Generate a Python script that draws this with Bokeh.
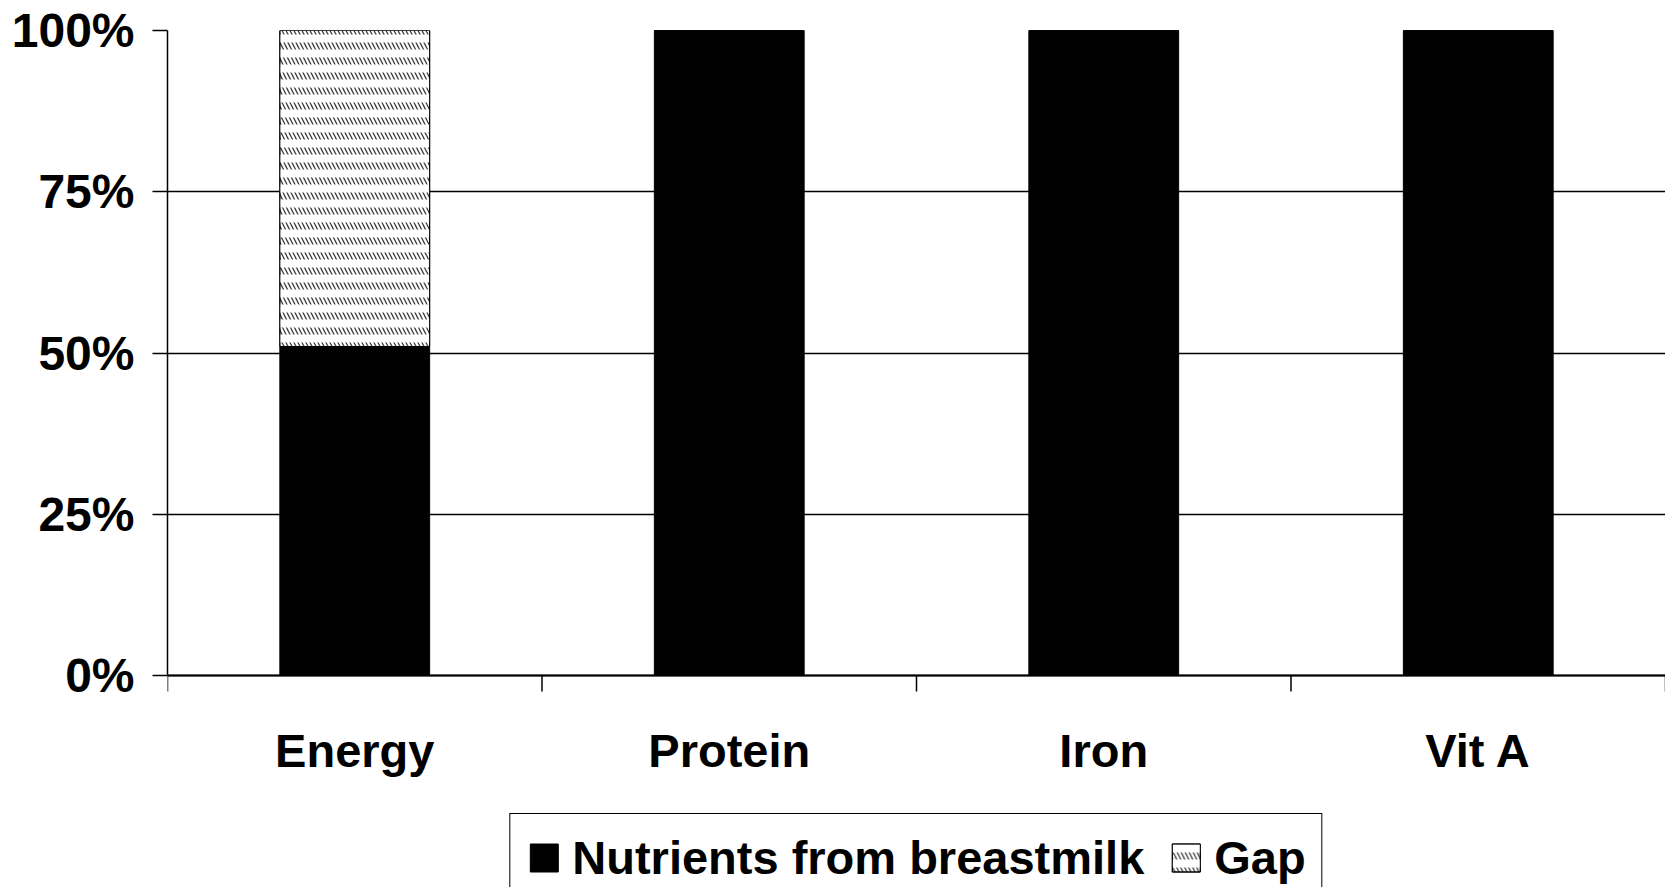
from bokeh.plotting import figure
from bokeh.models import (ColumnDataSource, Range1d, FixedTicker, Legend, LegendItem,
                          PrintfTickFormatter, Span)
from bokeh.core.properties import value
from bokeh.embed import file_html
from bokeh.resources import INLINE

# ---- data ----
categories = ["Energy", "Protein", "Iron", "Vit A"]
breastmilk = [51, 100, 100, 100]
gap = [49, 0, 0, 0]
y_ticks = [0, 25, 50, 75, 100]

# ---- layout constants (pixels) ----
PLOT_PX = 645          # height of 0%..100%
BELOW_PX = 227         # room under the 0% line (x labels + legend)
TICK_PX = 16
px_per_unit = PLOT_PX / (y_ticks[-1] - y_ticks[0])

xs = [i + 0.5 for i in range(len(categories))]
bounds = list(range(len(categories) + 1))
gap_top = [b + g for b, g in zip(breastmilk, gap)]

src = ColumnDataSource(dict(x=xs, cat=categories, milk=breastmilk,
                            gap_bottom=breastmilk, gap_top=gap_top,
                            base=[y_ticks[0]] * len(categories)))
tick_src = ColumnDataSource(dict(x=bounds, y0=[y_ticks[0]] * len(bounds),
                                 y1=[y_ticks[0] - TICK_PX / px_per_unit] * len(bounds)))

FONT = "Liberation Sans"
FS = "47px"

p = figure(frame_width=1498, frame_height=PLOT_PX + BELOW_PX, output_backend="svg",
           toolbar_location=None, x_axis_location=None,
           x_range=Range1d(0, len(categories)),
           y_range=Range1d(y_ticks[0] - BELOW_PX / px_per_unit, y_ticks[-1]),
           min_border_left=167, min_border_top=30, min_border_right=0,
           min_border_bottom=0)
p.outline_line_color = None
p.background_fill_color = "white"
p.border_fill_color = "white"

# grid
p.xgrid.grid_line_color = None
p.ygrid.ticker = FixedTicker(ticks=y_ticks)
p.ygrid.grid_line_color = "black"
p.ygrid.grid_line_width = 1.5

# bars
r_milk = p.vbar(x="x", top="milk", bottom="base", width=0.4, source=src,
                fill_color="black", line_color="black", line_width=1)
r_gap = p.vbar(x="x", top="gap_top", bottom="gap_bottom", width=0.4, source=src,
               fill_color="white", line_color="black", line_width=1,
               hatch_pattern="\\", hatch_color="#3a3a3a", hatch_scale=8,
               hatch_weight=1.3)
r_gap2 = p.vbar(x="x", top="gap_top", bottom="gap_bottom", width=0.4, source=src,
                fill_alpha=0, line_color="black", line_width=1,
                hatch_pattern="-", hatch_color="white", hatch_scale=15,
                hatch_weight=8)

# category axis: baseline, boundary ticks, labels
p.add_layout(Span(location=y_ticks[0], dimension="width", line_color="black",
                  line_width=2))
p.segment(x0="x", y0="y0", x1="x", y1="y1", source=tick_src,
          line_color="black", line_width=1.5)
p.text(x="x", y="base", text="cat", source=src, text_align="center",
       text_baseline="alphabetic", y_offset=75, text_font=value(FONT),
       text_font_style="bold", text_font_size=FS, text_color="black")

# y axis
ya = p.yaxis[0]
ya.bounds = (y_ticks[0], y_ticks[-1])
ya.ticker = FixedTicker(ticks=y_ticks)
ya.formatter = PrintfTickFormatter(format="%d%%")
ya.axis_line_color = "black"
ya.axis_line_width = 1.5
ya.major_tick_line_color = "black"
ya.major_tick_line_width = 1.5
ya.major_tick_out = 15
ya.major_tick_in = 0
ya.minor_tick_line_color = None
ya.major_label_standoff = 18
ya.major_label_text_font = FONT
ya.major_label_text_font_style = "bold"
ya.major_label_text_font_size = "48px"
ya.major_label_text_color = "black"

legend = Legend(items=[LegendItem(label="Nutrients from breastmilk", renderers=[r_milk]),
                       LegendItem(label="Gap", renderers=[r_gap, r_gap2])],
                orientation="horizontal", location="bottom_center")
legend.label_text_font = FONT
legend.label_text_font_style = "bold"
legend.label_text_font_size = FS
legend.label_text_color = "black"
legend.glyph_width = 35
legend.glyph_height = 35
legend.label_standoff = 11
legend.spacing = 24
legend.padding = 16
legend.margin = 0
legend.border_line_color = "black"
legend.border_line_alpha = 1
legend.border_line_width = 1.5
legend.background_fill_color = "white"
legend.background_fill_alpha = 1
p.add_layout(legend, "center")

open("out.html", "w").write(file_html(p, INLINE))
